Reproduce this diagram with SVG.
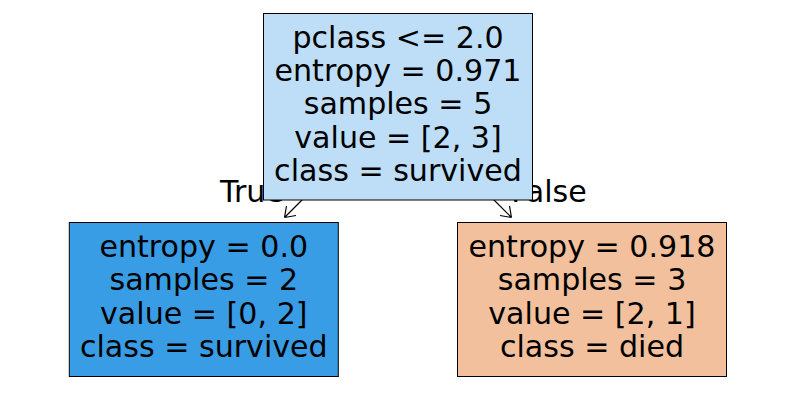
<svg xmlns="http://www.w3.org/2000/svg" width="794" height="405" viewBox="0 0 794 405">
<style>
text{font-family:"DejaVu Sans","Liberation Sans",sans-serif;font-size:30.1px;fill:#000;text-anchor:middle}
.box{stroke:#000;stroke-width:1}
.edge{stroke:#000;stroke-width:1.2;fill:none}
</style>
<rect width="794" height="405" fill="#fff"/>
<g id="edge-labels">
<text x="252" y="202">True</text>
<text x="549" y="202">False</text>
</g>
<g id="connectors">
<path class="edge" d="M306,196 L284.5,217.5 M284.5,217.5 L286.5,206 M284.5,217.5 L296,215.5"/>
<path class="edge" d="M490,196 L511.5,217.5 M511.5,217.5 L509.5,206 M511.5,217.5 L500,215.5"/>
</g>
<g id="node-root">
<rect class="box" x="263.5" y="13.5" width="269" height="186.5" fill="#bddef6"/>
<text x="398" y="47.5">pclass &lt;= 2.0</text>
<text x="398" y="80.8">entropy = 0.971</text>
<text x="398" y="114.2">samples = 5</text>
<text x="398" y="147.5">value = [2, 3]</text>
<text x="398" y="180.9">class = survived</text>
</g>
<g id="node-left">
<rect class="box" x="69.3" y="222.5" width="269" height="154" fill="#399de5"/>
<text x="203.8" y="256.8">entropy = 0.0</text>
<text x="203.8" y="290.1">samples = 2</text>
<text x="203.8" y="323.5">value = [0, 2]</text>
<text x="203.8" y="356.8">class = survived</text>
</g>
<g id="node-right">
<rect class="box" x="457.5" y="222.5" width="269" height="154" fill="#f2c09c"/>
<text x="592" y="256.8">entropy = 0.918</text>
<text x="592" y="290.1">samples = 3</text>
<text x="592" y="323.5">value = [2, 1]</text>
<text x="592" y="356.8">class = died</text>
</g>
</svg>
